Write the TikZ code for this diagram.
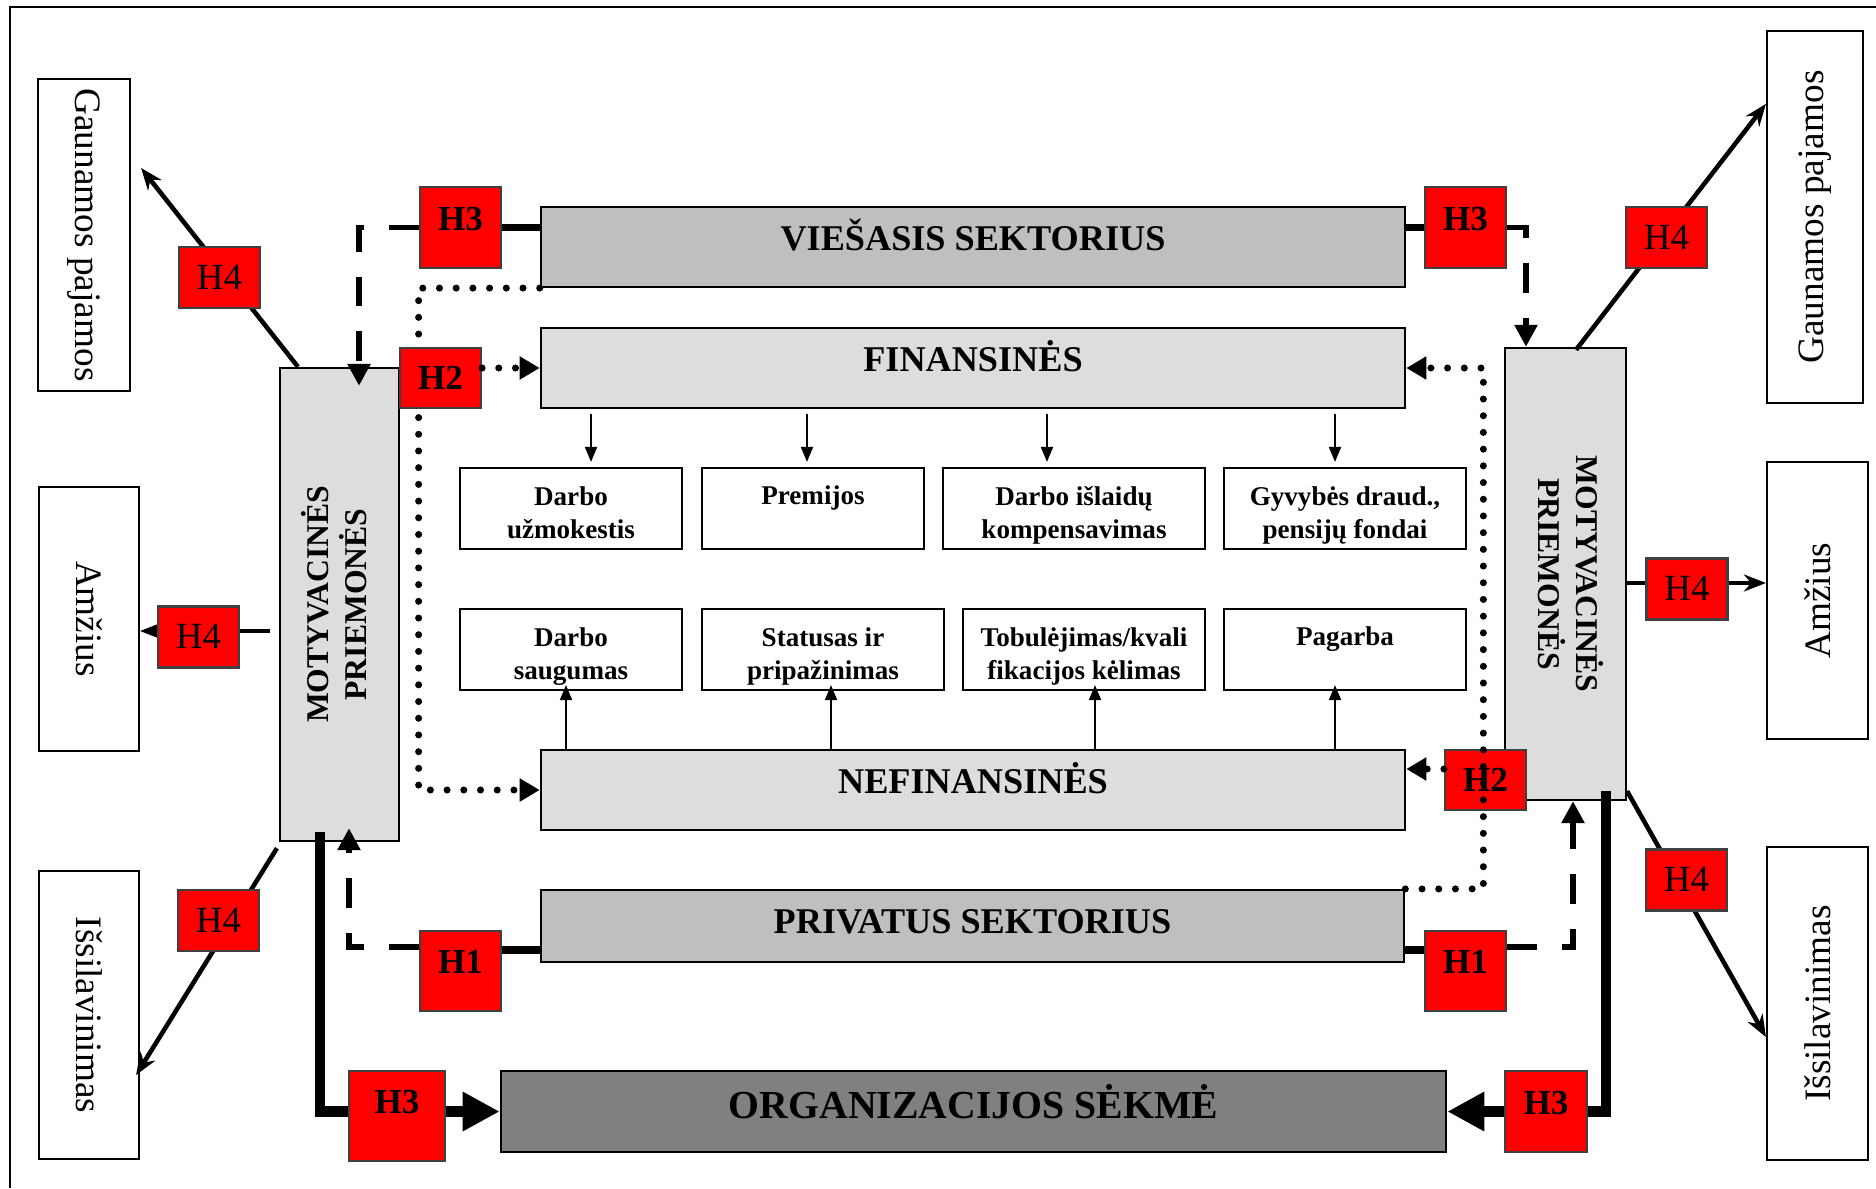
\documentclass[tikz,border=0pt]{standalone}
\usepackage{fontspec}
\setmainfont{Liberation Serif}
\usepackage{graphicx}
\usepackage{tikz}
\usetikzlibrary{arrows.meta}
\definecolor{fillmid}{HTML}{BFBFBF}
\definecolor{filllight}{HTML}{DDDDDD}
\definecolor{filldark}{HTML}{808080}
\definecolor{hypred}{HTML}{FF0000}
\tikzstyle{box} = [draw, line width=0.6pt, inner sep=0pt, align=center]
\tikzstyle{sector} = [box, minimum width=8.64cm, minimum height=0.8cm, font=\fontsize{10.3}{12}\selectfont\bfseries, text height=9pt, text depth=7pt]
\tikzstyle{sidebox} = [box, font=\fontsize{10.6}{12.7}\selectfont]
\tikzstyle{mpbox} = [box, fill=filllight, font=\fontsize{9}{10.8}\selectfont\bfseries]
\tikzstyle{itembox} = [box, minimum height=0.81cm, font=\fontsize{7.7}{9.3}\selectfont\bfseries, text height=18.2pt, text depth=1.4pt]
\tikzstyle{itemone} = [itembox, text height=7pt, text depth=9pt]
\tikzstyle{hyp} = [draw=black!75, line width=0.6pt, fill=hypred, inner sep=0pt, minimum width=0.81cm, minimum height=0.6cm, font=\fontsize{10}{12}\selectfont\bfseries, text height=7pt, text depth=0.4pt]
\tikzstyle{hypfour} = [hyp, minimum height=0.61cm, font=\fontsize{10.5}{12}\selectfont]
\tikzstyle{fline} = [line width=0.55pt, -{Triangle[length=0.15cm,width=0.12cm]}]
\tikzstyle{hfline} = [line width=1.3pt, -{Stealth[length=0.22cm,width=0.17cm]}]
\tikzstyle{stub} = [line width=2pt]
\tikzstyle{boldline} = [line width=3pt]
\tikzstyle{boldarrow} = [line width=3pt, -{Triangle[length=0.37cm,width=0.37cm]}]
\tikzstyle{dashline} = [line width=1.7pt, dash pattern=on 8.5pt off 7pt, -{Triangle[length=0.22cm,width=0.22cm]}]
\tikzstyle{dotline} = [line width=2pt, line cap=round, dash pattern=on 0pt off 4.75pt, -{Triangle[length=0.2cm,width=0.22cm]}]

\begin{document}
\begin{tikzpicture}[x=0.01cm, y=-0.01cm]
	\useasboundingbox (0,0) rectangle (1876,1188);
	\draw[line width=0.85pt] (10,1188) -- (10,7) -- (1876,7);

	\node[sidebox, minimum width=0.92cm, minimum height=3.12cm] (gpL) at (84,235) {\rotatebox{-90}{Gaunamos pajamos}};
	\node[sidebox, minimum width=1cm, minimum height=2.64cm] (amL) at (89,619) {\rotatebox{-90}{Amžius}};
	\node[sidebox, minimum width=1cm, minimum height=2.88cm] (isL) at (89,1015) {\rotatebox{-90}{Išsilavinimas}};
	\node[sidebox, minimum width=0.96cm, minimum height=3.72cm] (gpR) at (1815,217) {\rotatebox{90}{Gaunamos pajamos}};
	\node[sidebox, minimum width=1.01cm, minimum height=2.76cm] (amR) at (1817.5,600.5) {\rotatebox{90}{Amžius}};
	\node[sidebox, minimum width=1.01cm, minimum height=3.13cm] (isR) at (1817.5,1003.5) {\rotatebox{90}{Išsilavinimas}};

	\node[mpbox, minimum width=1.19cm, minimum height=4.73cm] (mpL) at (339.5,604.5) {\rotatebox{90}{\begin{tabular}{@{}c@{}}MOTYVACINĖS\\PRIEMONĖS\end{tabular}}};
	\node[mpbox, minimum width=1.21cm, minimum height=4.52cm] (mpR) at (1565.5,574) {\rotatebox{-90}{\begin{tabular}{@{}c@{}}MOTYVACINĖS\\PRIEMONĖS\end{tabular}}};

	\node[sector, fill=fillmid] (vs) at (973,247) {VIEŠASIS SEKTORIUS};
	\node[sector, fill=filllight] (fin) at (973,368) {FINANSINĖS};
	\node[sector, fill=filllight] (nefin) at (973,790) {NEFINANSINĖS};
	\node[sector, fill=fillmid, minimum width=8.63cm, minimum height=0.72cm, text depth=4.5pt] (ps) at (972.5,926) {PRIVATUS SEKTORIUS};
	\node[sector, fill=filldark, minimum width=9.45cm, minimum height=0.81cm, font=\fontsize{11.3}{13}\selectfont\bfseries, text height=10pt, text depth=6.2pt] (org) at (973.5,1111.5) {ORGANIZACIJOS SĖKMĖ};

	\node[itembox, minimum width=2.22cm] (b1) at (571,508.5) {Darbo\\užmokestis};
	\node[itemone, minimum width=2.22cm] (b2) at (813,508.5) {Premijos};
	\node[itembox, minimum width=2.62cm] (b3) at (1074,508.5) {Darbo išlaidų\\kompensavimas};
	\node[itembox, minimum width=2.42cm] (b4) at (1345,508.5) {Gyvybės draud.,\\pensijų fondai};
	\node[itembox, minimum width=2.22cm] (c1) at (571,649.5) {Darbo\\saugumas};
	\node[itembox, minimum width=2.42cm] (c2) at (823,649.5) {Statusas ir\\pripažinimas};
	\node[itembox, minimum width=2.42cm] (c3) at (1084,649.5) {Tobulėjimas/kvali\\fikacijos kėlimas};
	\node[itemone, minimum width=2.42cm] (c4) at (1345,649.5) {Pagarba};

	\foreach \n/\s in {b1/0.2, b2/-0.06, b3/-0.27, b4/-0.1}
		\draw[fline, shorten <=0.05cm, shorten >=0.05cm] ([xshift=\s cm]\n.north |- fin.south) -- ([xshift=\s cm]\n.north);
	\foreach \n/\s in {c1/-0.05, c2/0.08, c3/0.11, c4/-0.1}
		\draw[fline, shorten >=-0.06cm] ([xshift=\s cm]\n.south |- nefin.north) -- ([xshift=\s cm]\n.south);

	\draw[hfline] ([xshift=0.19cm]mpL.north west) -- ([xshift=0.1cm,yshift=0.67cm]gpL.east);
	\draw[hfline, shorten <=0.09cm] ([yshift=-0.12cm]amL.east -| mpL.west) -- ([yshift=-0.12cm]amL.east);
	\draw[hfline] ([xshift=-0.02cm,yshift=-0.06cm]mpL.south west) -- ([xshift=-0.04cm,yshift=-0.6cm]isL.east);
	\draw[hfline] ([xshift=0.105cm,yshift=-0.03cm]mpR.north) -- ([yshift=1.13cm]gpR.west);
	\draw[hfline] ([yshift=0.175cm]amR.west -| mpR.east) -- ([yshift=0.175cm]amR.west);
	\draw[hfline] ([yshift=0.1cm]mpR.south east) -- ([yshift=-0.335cm]isR.west);

	\draw[dotline] (vs.south west) -| ([xshift=-1.21cm]nefin.west) -- (nefin.west);

	\node[hyp, minimum height=0.81cm, text depth=5.5pt] (h3tl) at (460.5,227.5) {H3};
	\node[hyp, minimum height=0.81cm, text depth=5.5pt] (h3tr) at (1465.5,227.5) {H3};
	\node[hyp] (h2l) at (440.5,378) {H2};
	\node[hyp] (h2r) at (1485.5,780) {H2};
	\node[hyp, minimum height=0.8cm, text depth=5.5pt] (h1l) at (460.5,971) {H1};
	\node[hyp, minimum height=0.8cm, text depth=5.5pt] (h1r) at (1465.5,971) {H1};
	\node[hyp, minimum width=0.96cm, minimum height=0.9cm, text depth=8.4pt] (h3bl) at (397,1116) {H3};
	\node[hyp, minimum width=0.82cm, minimum height=0.81cm, text depth=5.5pt] (h3br) at (1546,1111.5) {H3};
	\node[hypfour] (h4tl) at (219.5,277.5) {H4};
	\node[hypfour] (h4tr) at (1666.5,237.5) {H4};
	\node[hypfour] (h4ml) at (198.5,637) {H4};
	\node[hypfour] (h4mr) at (1687,589) {H4};
	\node[hypfour] (h4bl) at (218.5,920.5) {H4};
	\node[hypfour] (h4br) at (1686.5,880) {H4};

	\draw[dotline] (h2l.east |- fin.west) -- (fin.west);
	\draw[dotline] (ps.north east) -| ([xshift=0.77cm]fin.east) -- (fin.east);
	\draw[dotline] ([yshift=0.11cm]h2r.west) -- ([yshift=0.11cm]h2r.west -| nefin.east);

	\draw[stub] (h3tl.east) -- (h3tl.east -| vs.west);
	\draw[stub] (h3tr.west) -- (h3tr.west -| vs.east);
	\draw[stub] ([yshift=0.21cm]h1l.east) -- ([yshift=0.21cm]h1l.east -| ps.west);
	\draw[stub] ([yshift=0.21cm]h1r.west) -- ([yshift=0.21cm]h1r.west -| ps.east);

	\draw[dashline, shorten >=-0.19cm] (h3tl.west) -| ([xshift=0.195cm]mpL.north);
	\draw[dashline] (h3tr.east) -| ([xshift=-0.395cm]mpR.north);
	\draw[dashline, shorten >=-0.14cm] ([yshift=0.24cm]h1l.west) -| ([xshift=0.095cm]mpL.south);
	\draw[dashline] ([yshift=0.24cm]h1r.east) -| ([xshift=0.075cm]mpR.south);

	\draw[boldline] ([xshift=-0.195cm,yshift=0.1cm]mpL.south) |- (h3bl.west |- org.west);
	\draw[boldarrow] (h3bl.east |- org.west) -- (org.west);
	\draw[boldline] ([xshift=0.405cm,yshift=0.1cm]mpR.south) |- (h3br.east |- org.east);
	\draw[boldarrow] (h3br.west |- org.east) -- (org.east);
\end{tikzpicture}
\end{document}
